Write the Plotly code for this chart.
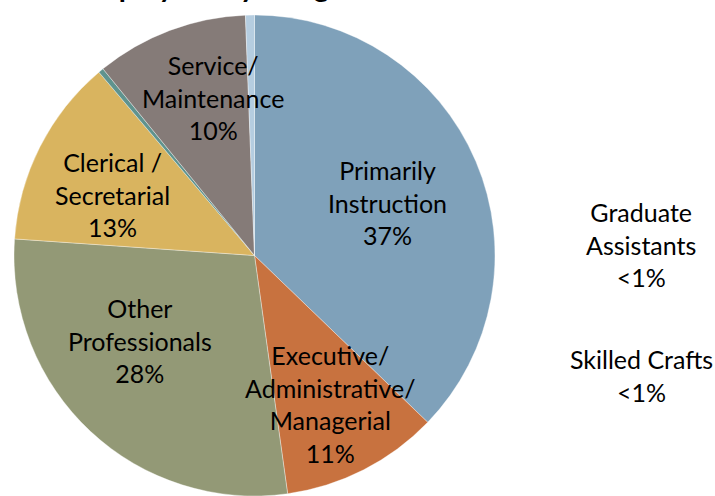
import plotly.graph_objects as go

# Data (percent of employees)
categories = ["Primarily Instruction", "Executive/Administrative/Managerial",
              "Other Professionals", "Clerical / Secretarial", "Skilled Crafts",
              "Service/Maintenance", "Graduate Assistants"]
values = [37.2, 10.6, 28.3, 12.7, 0.35, 10.25, 0.6]
label_texts = ["Primarily<br>Instruction<br>37%",
               "Executive/<br>Administrative/<br>Managerial<br>11%",
               "Other<br>Professionals<br>28%",
               "Clerical /<br>Secretarial<br>13%",
               "Skilled Crafts<br><1%",
               "Service/<br>Maintenance<br>10%",
               "Graduate<br>Assistants<br><1%"]
colors = ["#7FA1BA", "#C8723F", "#939976", "#D9B45F", "#5F938E", "#857B78", "#B5CDE0"]
title_text = "Employees by Assignment"

W, H = 715, 496
# label block centres in pixel positions (text placement)
label_px = [(387, 202), (330, 404), (140, 340), (112, 194), (641, 375), (213, 98), (641, 244)]

fig = go.Figure(go.Pie(
    labels=categories, values=values, sort=False, direction="clockwise", rotation=0,
    marker=dict(colors=colors, line=dict(color="rgba(255,255,255,0.6)", width=0.6)),
    textinfo="none", hoverinfo="label+percent", showlegend=False,
    domain=dict(x=[12 / W, 497 / W], y=[0, 481 / H]),
))

annos = []
for txt, (px, py) in zip(label_texts, label_px):
    annos.append(dict(text=txt, x=px / W, y=1 - py / H, xref="paper", yref="paper",
                      xanchor="center", yanchor="middle", showarrow=False, align="center",
                      font=dict(family="Lato", size=25, color="#000000")))
annos.append(dict(text="<b>" + title_text + "</b>", x=245 / W, y=1, xref="paper", yref="paper",
                  xanchor="center", yanchor="bottom", yshift=-5, showarrow=False,
                  font=dict(family="Lato", size=29, color="#000000")))

fig.update_layout(width=W, height=H, margin=dict(l=0, r=0, t=0, b=0),
                  paper_bgcolor="white", plot_bgcolor="white", annotations=annos)
fig.write_html("out.html", config={"displayModeBar": False},
               post_script="document.body.style.margin='0';document.body.style.overflow='hidden';")
